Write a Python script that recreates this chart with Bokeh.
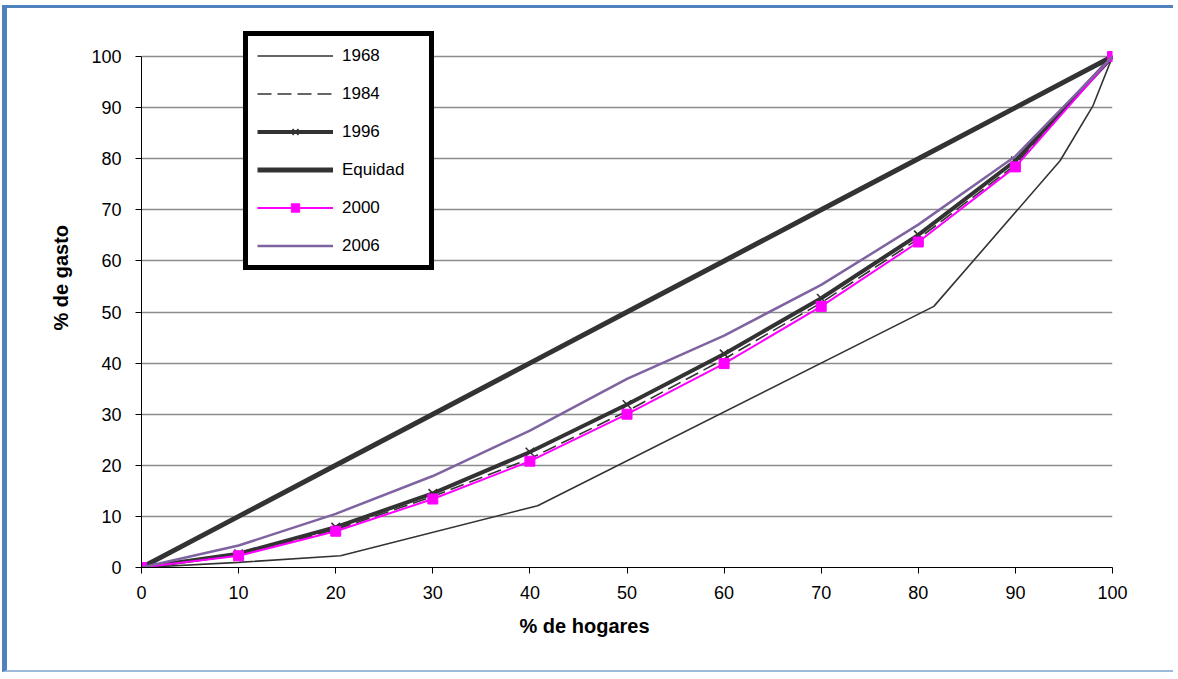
from bokeh.plotting import figure
from bokeh.models import Range1d, Legend, LegendItem, Title, FixedTicker
from bokeh.embed import file_html
from bokeh.resources import INLINE

# ---- data ----
deciles = [0, 10, 20, 30, 40, 50, 60, 70, 80, 90, 100]
x_1968 = [0, 10, 20.5, 40.8, 81.6, 94.6, 98.0, 100]
y_1968 = [0, 1.0, 2.3, 12.1, 51.1, 79.6, 90.4, 100]
y_1984 = [0, 2.4, 7.4, 13.9, 21.3, 30.6, 40.8, 51.8, 64.3, 78.8, 100]
y_1996 = [0, 2.7, 7.9, 14.5, 22.6, 31.9, 41.8, 52.7, 65.1, 79.6, 100]
y_equidad = [0, 10, 20, 30, 40, 50, 60, 70, 80, 90, 100]
y_2000 = [0, 2.3, 7.1, 13.4, 20.8, 30.0, 39.9, 51.1, 63.7, 78.4, 100]
y_2006 = [0, 4.3, 10.5, 17.9, 26.8, 36.9, 45.4, 55.3, 67.1, 80.5, 100]
ticks = [0, 10, 20, 30, 40, 50, 60, 70, 80, 90, 100]
x_title = "% de hogares"
y_title = "% de gasto"

FONT = "Liberation Sans"
DARK = "#333333"

p = figure(width=1171, height=667, output_backend="svg", toolbar_location=None,
           x_range=Range1d(0, 100), y_range=Range1d(0, 107.05),
           min_border_left=134, min_border_right=66, min_border_top=12, min_border_bottom=108)
p.styles = {"margin-left": "2px", "margin-top": "5px",
            "border-left": "5px solid #4F81BD", "border-top": "3px solid #4F81BD",
            "border-bottom": "2px solid #9DB9DC"}
p.outline_line_color = None
p.background_fill_color = "white"
p.border_fill_color = "white"

p.xgrid.grid_line_color = None
p.ygrid.grid_line_color = "#8c8c8c"
p.ygrid.grid_line_width = 1.5

for ax in (p.xaxis, p.yaxis):
    ax.ticker = FixedTicker(ticks=ticks)
    ax.axis_line_color = "black"
    ax.axis_line_width = 1
    ax.major_tick_line_color = "black"
    ax.major_tick_in = 0
    ax.major_tick_out = 6
    ax.minor_tick_line_color = None
    ax.major_label_text_font = FONT
    ax.major_label_text_font_size = "18px"
    ax.major_label_text_color = "black"
p.xaxis.major_label_standoff = 12
p.yaxis.major_label_standoff = 14
p.yaxis.bounds = (0, 100)

# ---- series ----
r68 = p.line(x_1968, y_1968, line_color=DARK, line_width=1.6)
r84 = p.line(deciles, y_1984, line_color=DARK, line_width=1.6, line_dash="14 6")
r96 = p.line(deciles, y_1996, line_color=DARK, line_width=4)
r96m = p.scatter(deciles, y_1996, marker="x", size=12, line_color=DARK, line_width=1.6)
req = p.line(deciles, y_equidad, line_color=DARK, line_width=5)
r00 = p.line(deciles, y_2000, line_color="#FF00FF", line_width=2)
r00m = p.scatter(deciles, y_2000, marker="square", size=10, fill_color="#FF00FF", line_color="#FF00FF")
r06 = p.line(deciles, y_2006, line_color="#7F63A1", line_width=2.5)

legend = Legend(items=[
    LegendItem(label="1968", renderers=[r68]),
    LegendItem(label="1984", renderers=[r84]),
    LegendItem(label="1996", renderers=[r96, r96m]),
    LegendItem(label="Equidad", renderers=[req]),
    LegendItem(label="2000", renderers=[r00, r00m]),
    LegendItem(label="2006", renderers=[r06]),
], location=(102, 297))
legend.border_line_color = "black"
legend.border_line_alpha = 1
legend.border_line_width = 5
legend.background_fill_color = "white"
legend.background_fill_alpha = 1
legend.padding = 9
legend.spacing = 17
legend.glyph_width = 76
legend.glyph_height = 21
legend.label_height = 21
legend.label_width = 78
legend.label_standoff = 9
legend.label_text_font = FONT
legend.label_text_font_size = "17px"
legend.label_text_color = "black"
legend.margin = 0
p.add_layout(legend, "center")

# axis titles
p.add_layout(Title(text=x_title, align="left", offset=378, standoff=22, text_font=FONT,
                   text_font_size="20px", text_font_style="bold", text_color="black"), "below")
p.add_layout(Title(text=y_title, align="left", offset=237, standoff=33, text_font=FONT,
                   text_font_size="20px", text_font_style="bold", text_color="black"), "left")

open("out.html", "w").write(file_html(p, INLINE))
